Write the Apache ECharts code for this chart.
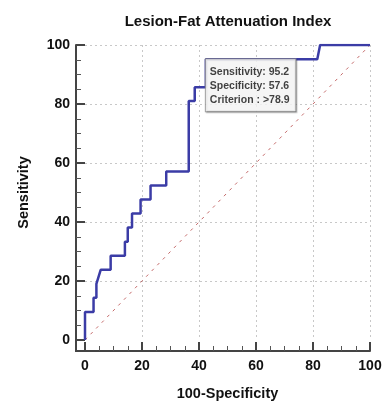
<!DOCTYPE html>
<html>
<head>
<meta charset="utf-8">
<script src="https://cdn.jsdelivr.net/npm/echarts@6/dist/echarts.min.js"></script>
<style>html,body{margin:0;padding:0;background:#fff}#c{width:382px;height:403px}</style>
</head>
<body>
<div id="c"></div>
<script>
var titleText = 'Lesion-Fat Attenuation Index';
var xName = '100-Specificity';
var yName = 'Sensitivity';
var rocX = [0, 0, 3, 3, 4, 4, 4.5, 5.5, 9, 9, 14, 14, 15, 15, 16.5, 16.5, 19.5, 19.5, 23, 23, 28.5, 28.5, 36.4, 36.4, 38.5, 38.5, 42.4, 42.4, 81.5, 82.5, 100];
var rocY = [0, 9.5, 9.5, 14.3, 14.3, 19, 19, 23.8, 23.8, 28.6, 28.6, 33.3, 33.3, 38.1, 38.1, 42.9, 42.9, 47.6, 47.6, 52.4, 52.4, 57.1, 57.1, 81, 81, 85.7, 85.7, 95.2, 95.2, 100, 100];
var diagX = [0, 100];
var diagY = [0, 100];
var optPoint = [42.4, 95.2];
var boxLines = ['Sensitivity: 95.2', 'Specificity: 57.6', 'Criterion : >78.9'];

var font = '"Liberation Sans", Arial, sans-serif';
var chart = echarts.init(document.getElementById('c'), null, {renderer: 'canvas'});
var axisCommon = {
  min: 0, max: 100, interval: 20,
  axisLine: {show: true, onZero: false, lineStyle: {color: '#444', width: 2}},
  axisTick: {show: true, inside: true, length: 9, lineStyle: {color: '#444', width: 2}},
  minorTick: {show: true, splitNumber: 4, length: 5, lineStyle: {color: '#555', width: 1}},
  splitLine: {show: true, showMinLine: false, lineStyle: {color: '#c8c8c8', type: [2, 3], width: 1}},
  axisLabel: {color: '#111', fontFamily: font, fontWeight: 'bold', fontSize: 14},
  nameLocation: 'middle',
  nameTextStyle: {color: '#111', fontFamily: font, fontWeight: 'bold', fontSize: 14.5}
};
var option = {
  animation: false,
  backgroundColor: '#fff',
  title: {text: titleText, left: 223, top: 9, textAlign: 'center',
    textStyle: {color: '#111', fontFamily: font, fontWeight: 'bold', fontSize: 15}},
  grid: {left: 85, right: 12, top: 45, bottom: 63, containLabel: false, outerBoundsMode: 'none'},
  xAxis: Object.assign({}, axisCommon, {type: 'value', name: xName, nameGap: 35, offset: 11,
    axisLabel: Object.assign({}, axisCommon.axisLabel, {margin: 8})}),
  yAxis: Object.assign({}, axisCommon, {type: 'value', name: yName, nameGap: 45, offset: 9,
    axisLabel: Object.assign({}, axisCommon.axisLabel, {margin: 6})}),
  series: [
    {type: 'line', data: diagX.map(function(v, i){return [v, diagY[i]];}), symbol: 'none', silent: true,
      lineStyle: {color: '#c46a6a', width: 1, type: [3, 5]}, z: 2},
    {type: 'line', data: rocX.map(function(v, i){return [v, rocY[i]];}), symbol: 'none',
      lineStyle: {color: '#3b3ca6', width: 2.5}, z: 3},
    {type: 'scatter', data: [optPoint], symbolSize: 0, z: 5,
      label: {show: true, position: [0, 0], align: 'left', verticalAlign: 'top',
        formatter: boxLines.join('\n'), color: '#111', fontFamily: font, fontWeight: 'bold', fontSize: 10.5,
        lineHeight: 14, backgroundColor: '#fff', borderColor: '#8a8a8a', borderWidth: 1,
        padding: [6, 6, 4, 4], shadowColor: 'rgba(0,0,0,0.25)', shadowOffsetX: 1, shadowOffsetY: 1, shadowBlur: 1}}
  ]
};
chart.setOption(option);
var p0 = chart.convertToPixel({gridIndex: 0}, [0, 0]);
chart.setOption({graphic: [
  {type: 'line', shape: {x1: p0[0] - 10, y1: p0[1] + 11, x2: p0[0] + 1, y2: p0[1] + 11}, style: {stroke: '#444', lineWidth: 2}, z: 10},
  {type: 'line', shape: {x1: p0[0] - 9, y1: p0[1] - 1, x2: p0[0] - 9, y2: p0[1] + 12}, style: {stroke: '#444', lineWidth: 2}, z: 10}
]});
</script>
</body>
</html>
